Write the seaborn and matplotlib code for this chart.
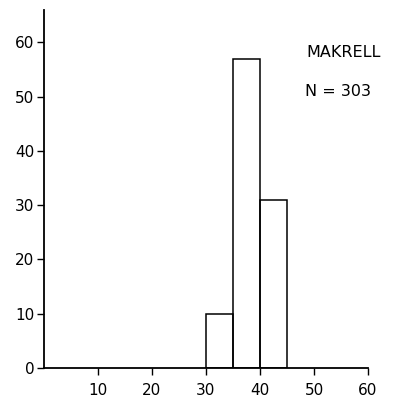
import matplotlib
matplotlib.use("Agg")
import matplotlib.pyplot as plt
import seaborn as sns
import pandas as pd

# Length classes (cm, left edges) and percentage frequency
bin_left = [30, 35, 40]
percent = [10, 57, 31]
bin_edges = [30, 35, 40, 45]
x_ticks = [10, 20, 30, 40, 50, 60]
y_ticks = [0, 10, 20, 30, 40, 50, 60]
species = "MAKRELL"
n_label = "N = 303"

sns.set_theme(style="white")
plt.rcParams['font.family'] = ['DejaVu Sans']

df = pd.DataFrame({"length": [b + 2.5 for b in bin_left], "pct": percent})

fig = plt.figure(figsize=(4.14, 4.12), dpi=100)
ax = fig.add_axes([0.106, 0.107, 0.783, 0.869])

sns.histplot(data=df, x="length", weights="pct", bins=bin_edges,
             fill=False, color="black", edgecolor="black", linewidth=1.1,
             element="bars", ax=ax)

ax.set_xlim(0, 60)
ax.set_ylim(0, 66)
ax.set_xticks(x_ticks)
ax.set_yticks(y_ticks)
ax.set_xlabel("")
ax.set_ylabel("")
for s in ["top", "right"]:
    ax.spines[s].set_visible(False)
for s in ["left", "bottom"]:
    ax.spines[s].set_color("black")
    ax.spines[s].set_linewidth(1.3)
ax.tick_params(axis="both", direction="out", length=5, width=1, color="black",
               labelsize=11, labelcolor="black", bottom=True, left=True)
ax.tick_params(axis="x", pad=6)
ax.tick_params(axis="y", pad=2)

ax.text(0.81, 0.88, species, transform=ax.transAxes, fontsize=11.5,
        color="black", ha="left", va="center", fontstretch="expanded")
ax.text(0.805, 0.771, n_label, transform=ax.transAxes, fontsize=11.5,
        color="black", ha="left", va="center")

fig.savefig("out.png", dpi=100, facecolor="white")
